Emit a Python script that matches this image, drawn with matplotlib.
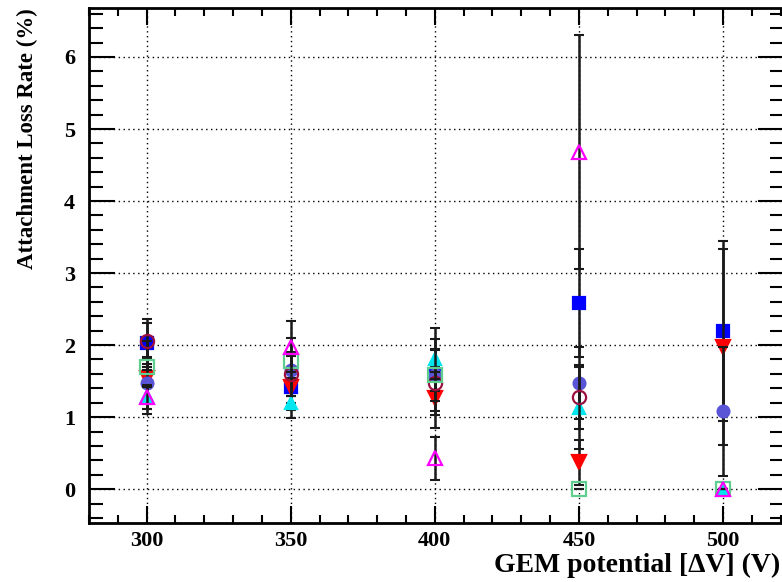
import numpy as np
import matplotlib
matplotlib.use("Agg")
import matplotlib.pyplot as plt
from matplotlib.ticker import MultipleLocator

plt.rcParams['font.family'] = ['Liberation Serif', 'DejaVu Serif']
plt.rcParams['font.weight'] = 'bold'

# GEM voltages
voltage = [300, 350, 400, 450, 500]

# attachment loss rate (%) and errors for each gas sample
rate_sq_blue = [2.03, 1.42, 1.58, 2.58, 2.20]
err_sq_blue = [0.33, 0.12, 0.50, 0.75, 1.25]

rate_tri_red = [1.55, 1.42, 1.27, 0.37, 1.97]
err_tri_red = [0.50, 0.43, 0.42, 0.31, 1.36]

rate_dot_slate = [1.47, 1.65, 1.58, 1.48, 1.08]
err_dot_slate = [0.36, 0.45, 0.36, 0.50, 0.90]

rate_tri_cyan = [1.30, 1.20, 1.80, 1.13, 0.0]
err_tri_cyan = [0.12, 0.10, 0.44, 0.57, 0.0]

rate_ring_maroon = [2.05, 1.60, 1.48, 1.28, None]
err_ring_maroon = [0.25, 0.30, 0.45, 0.44, None]

rate_box_green = [1.70, 1.78, 1.58, 0.0, 0.0]
err_box_green = [0.04, 0.10, 0.05, 0.0, 0.0]

rate_tri_magenta = [1.28, 1.98, 0.43, 4.68, 0.0]
err_tri_magenta = [0.17, 0.35, 0.30, 1.63, 0.0]

series = [
    (rate_sq_blue, err_sq_blue, 's', '#0000ff', True, 8.5),
    (rate_tri_red, err_tri_red, 'v', '#ff0000', True, 9.5),
    (rate_dot_slate, err_dot_slate, 'o', '#5a55d6', True, 8.5),
    (rate_tri_cyan, err_tri_cyan, '^', '#00e5ee', True, 8.5),
    (rate_ring_maroon, err_ring_maroon, 'o', '#9c1040', False, 9.5),
    (rate_box_green, err_box_green, 's', '#5fcf8f', False, 9.5),
    (rate_tri_magenta, err_tri_magenta, '^', '#ff00ff', False, 9.5),
]

fig = plt.figure(figsize=(7.82, 5.82), dpi=100)
ax = fig.add_axes([89 / 782, 1 - 523 / 582, 1 - 89 / 782 + 0.002, (523 - 8) / 582])

z = 3
for rate, err, mk, col, filled, ms in series:
    xs = [v for v, r in zip(voltage, rate) if r is not None]
    ys = [r for r in rate if r is not None]
    es = [e for e, r in zip(err, rate) if r is not None]
    ax.errorbar(xs, ys, yerr=es, fmt='none', ecolor='#1a1a1a', elinewidth=1.8,
                capsize=3.5, capthick=1.5, zorder=z)
    ax.plot(xs, ys, linestyle='none', marker=mk, markersize=ms,
            markerfacecolor=col if filled else 'none', markeredgecolor=col,
            markeredgewidth=1.6, zorder=z + 1)
    z += 2

ax.set_xlim(280, 521)
ax.set_ylim(-0.47, 6.68)

ax.xaxis.set_major_locator(MultipleLocator(50))
ax.xaxis.set_minor_locator(MultipleLocator(10))
ax.yaxis.set_major_locator(MultipleLocator(1))
ax.yaxis.set_minor_locator(MultipleLocator(0.2))

ax.grid(True, which='major', linestyle=(0, (1, 2.5)), color='black', linewidth=1.0)
ax.set_axisbelow(True)

ax.tick_params(axis='x', which='major', direction='in', length=12, width=1.5,
               top=True, labelsize=16, pad=6)
ax.tick_params(axis='x', which='minor', direction='in', length=6, width=1.5, top=True)
ax.tick_params(axis='y', which='major', direction='in', length=19, width=1.5,
               right=True, labelsize=16, pad=10)
ax.tick_params(axis='y', which='minor', direction='in', length=10, width=1.5, right=True)

for s in ax.spines.values():
    s.set_linewidth(2)
ax.spines['right'].set_visible(False)

for lab in ax.get_xticklabels() + ax.get_yticklabels():
    lab.set_fontweight('bold')

ax.set_xlabel('GEM potential [\u0394V] (V)', fontsize=20, fontweight='bold')
ax.xaxis.set_label_coords(0.995, -0.058)
ax.xaxis.label.set_horizontalalignment('right')

ax.set_ylabel('Attachment Loss Rate (%)', fontsize=16.5, fontweight='bold')
ax.yaxis.set_label_coords(-0.074, 1.0)
ax.yaxis.label.set_horizontalalignment('right')

fig.savefig('out.png', dpi=100)
